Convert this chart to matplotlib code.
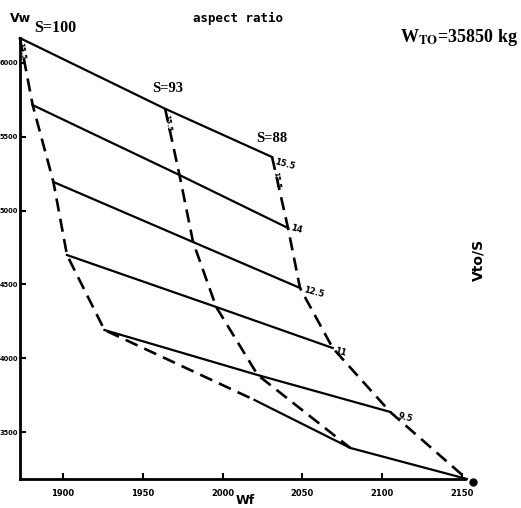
import matplotlib
matplotlib.use("Agg")
import matplotlib.pyplot as plt

# carpet plot: wing weight vs fuel weight for three wing areas, six aspect ratios
s_values = [100, 93, 88]
ar_labels = ["15.5", "14", "12.5", "11", "9.5", "8"]

wf_s100 = [1873, 1881, 1894, 1902.5, 1926, 2020]
ww_s100 = [6169, 5715, 5194, 4699, 4191, 3717]
wf_s93 = [1964, 1973, 1981.5, 1996, 2022, 2080]
ww_s93 = [5690, 5241, 4787, 4347, 3886, 3392]
wf_s88 = [2031, 2041, 2048.5, 2069, 2105, 2153]
ww_s88 = [5363, 4882, 4476, 4069, 3636, 3182]

xticks = [1900, 1950, 2000, 2050, 2100, 2150]
yticks = [3500, 4000, 4500, 5000, 5500, 6000]

W, H = 521, 508
fig = plt.figure(figsize=(W / 100, H / 100), dpi=100)
ax = fig.add_axes([20 / W, 29 / H, 501 / W, 479 / H])
ax.set_xlim(1873.06, 2186.98)
ax.set_ylim(3181.6, 6426.8)

def px(x, y):
    return x / W, 1 - y / H

# lines of constant S (dashed)
for wf, ww in [(wf_s100, ww_s100), (wf_s93, ww_s93), (wf_s88, ww_s88)]:
    ax.plot(wf, ww, color="black", lw=1.9, ls=(0, (5, 2.8)),
            solid_capstyle="butt", dash_capstyle="butt", clip_on=False)

# lines of constant aspect ratio (solid)
for i in range(len(ar_labels)):
    ax.plot([wf_s100[i], wf_s93[i], wf_s88[i]],
            [ww_s100[i], ww_s93[i], ww_s88[i]],
            color="black", lw=1.6, clip_on=False)

ax.plot([wf_s88[-1] + 4], [ww_s88[-1] - 20], "o", color="black", ms=5, clip_on=False)

# spines and ticks
for side in ["top", "right"]:
    ax.spines[side].set_visible(False)
ax.spines["left"].set_linewidth(2)
ax.spines["bottom"].set_linewidth(2)
ax.spines["left"].set_bounds(3181.6, ww_s100[0])
ax.spines["bottom"].set_bounds(1873.06, 2152)

ax.set_xticks(xticks)
ax.set_xticklabels([str(v) for v in xticks])
ax.set_yticks(yticks)
ax.set_yticklabels([str(v) for v in yticks])
ax.tick_params(direction="in", length=4, width=1.5, labelsize=6)
ax.tick_params(axis="x", pad=7)
ax.tick_params(axis="y", pad=1.5, labelsize=4.8)
for lab in ax.get_xticklabels() + ax.get_yticklabels():
    lab.set_fontweight("bold")

# annotations
serif = "Liberation Serif"
fig.text(*px(20, 18), "Vw", fontsize=9, fontweight="bold", ha="center", va="center")
fig.text(*px(55, 28), "S=100", fontsize=11.5, fontweight="bold", family=serif,
         ha="center", va="center")
fig.text(*px(168, 88), "S=93", fontsize=10.5, fontweight="bold", family=serif,
         ha="center", va="center")
fig.text(*px(272, 138), "S=88", fontsize=10.5, fontweight="bold", family=serif,
         ha="center", va="center")
fig.text(*px(238, 18), "aspect ratio", fontsize=9, fontweight="bold",
         family="DejaVu Sans Mono", ha="center", va="center")
plt.rcParams["mathtext.fontset"] = "stix"
fig.text(*px(400, 37), r"W$_{\mathbf{TO}}$=35850 kg", fontsize=13, fontweight="bold",
         family=serif, ha="left", va="center")
fig.text(*px(478, 260), "Vto/S", fontsize=10, fontweight="bold", rotation=90,
         ha="center", va="center")
fig.text(*px(245, 507), "Wf", fontsize=9, fontweight="bold", ha="center", va="bottom")

# aspect ratio labels along S=88
ar_pos = [(285, 164), (296, 229), (314, 292), (340, 352), (405, 418)]
for (x, y), lab in zip(ar_pos, ar_labels[:5]):
    fig.text(*px(x, y), lab, fontsize=6, fontweight="bold", rotation=-15,
             ha="center", va="center")

# small rotated labels at the top of each S line
for x, y in [(22, 51), (168, 123), (277, 180)]:
    fig.text(*px(x, y), "15.5", fontsize=5, fontweight="bold", rotation=-80,
             ha="center", va="center")

fig.savefig("out.png", dpi=100)
